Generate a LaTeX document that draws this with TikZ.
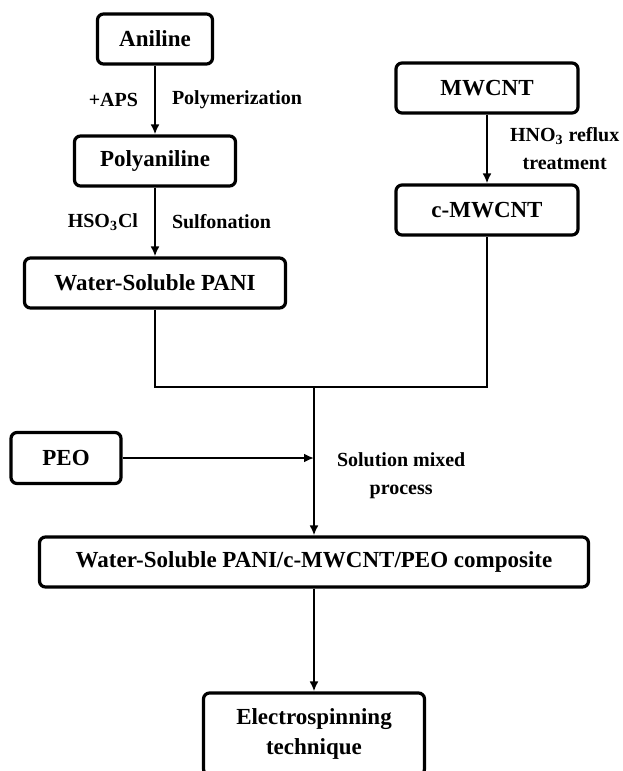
\documentclass[tikz,border=0pt]{standalone}
\usepackage{fontspec}
\setmainfont{Liberation Serif}
\usepackage{tikz}
\usetikzlibrary{arrows.meta}

\begin{document}
\begin{tikzpicture}[->,>={Latex[length=5pt,width=4.5pt]},auto,node distance=61pt,
  line width=1pt,font=\fontsize{11.5}{15}\selectfont\bfseries,
  main node/.style={rectangle,rounded corners=3pt,draw,line width=1.6pt,minimum height=25pt,align=center},
  step label/.style={inner sep=8pt,align=center,font=\fontsize{10}{14}\selectfont\bfseries}]

  \useasboundingbox (0,0) rectangle (311pt,-385.5pt);

  \node[main node,minimum width=57.5pt] (1) at (77.5pt,-19.5pt) {Aniline};
  \node[main node,minimum width=80.5pt] (2) [below of=1] {Polyaniline};
  \node[main node,minimum width=130.5pt] (3) [below of=2] {Water-Soluble PANI};
  \node[main node,minimum width=91pt] (4) at (243.5pt,-44pt) {MWCNT};
  \node[main node,minimum width=91pt] (5) [below of=4] {c-MWCNT};
  \coordinate (j) at (157pt,-193.5pt);
  \node[main node,minimum width=55pt,minimum height=25.5pt] (6) at (33pt,-229pt) {PEO};
  \node[main node,minimum width=274.5pt] (7) at (157pt,-281pt) {Water-Soluble PANI/c-MWCNT/PEO composite};
  \node[main node,minimum width=110.5pt,minimum height=41pt] (8) [below of=7,yshift=-25pt] {Electrospinning\\technique};

  \path[every node/.style={step label}]
    (1) edge node[swap] {+APS} node {Polymerization} (2)
    (2) edge node[swap] {HSO\textsubscript{3}Cl} node {Sulfonation} (3)
    (4) edge node[xshift=3pt] {HNO\textsubscript{3} reflux\\treatment} (5)
    (6) edge (6 -| j)
    (j) edge node[pos=0.6,xshift=3pt] {Solution mixed\\process} (7)
    (7) edge (8);

  \draw[-] (3) |- (j) -| (5);

\end{tikzpicture}
\end{document}
